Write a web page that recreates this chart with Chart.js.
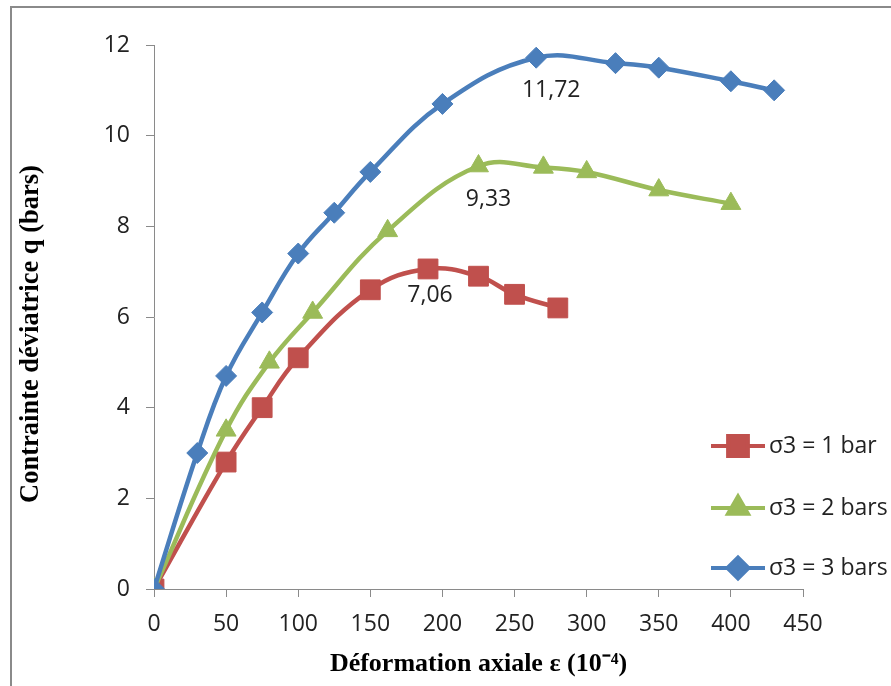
<!DOCTYPE html>
<html>
<head>
<meta charset="utf-8">
<script src="https://cdn.jsdelivr.net/npm/chart.js@4.4.1/dist/chart.umd.min.js"></script>
<style>
  html, body { margin: 0; padding: 0; background: #fff; overflow: hidden; }
  #frame {
    position: absolute; left: 10px; top: 6px;
    width: 1000px; height: 1000px;
    border-left: 2px solid #8a8a8a; border-top: 2px solid #8a8a8a;
  }
  #wrap { position: absolute; left: 0; top: 0; width: 891px; height: 686px; }
</style>
</head>
<body>
<div id="frame"></div>
<div id="wrap"><canvas id="chart" width="891" height="686"></canvas></div>
<script>
// Courbes q - epsilon pour trois pressions de confinement

const seriesNames = ['σ3 = 1 bar', 'σ3 = 2 bars', 'σ3 = 3 bars'];

const strain1 = [0, 50, 75, 100, 150, 190, 225, 250, 280];
const stress1 = [0, 2.8, 4.0, 5.1, 6.6, 7.06, 6.9, 6.5, 6.2];

const strain2 = [0, 50, 80, 110, 162, 225, 270, 300, 350, 400];
const stress2 = [0, 3.5, 5.0, 6.1, 7.9, 9.33, 9.3, 9.2, 8.8, 8.5];

const strain3 = [0, 30, 50, 75, 100, 125, 150, 200, 265, 320, 350, 400, 430];
const stress3 = [0, 3.0, 4.7, 6.1, 7.4, 8.3, 9.2, 10.7, 11.72, 11.6, 11.5, 11.2, 11.0];

// index of the peak point that gets a value label
const peakIndex = [5, 5, 8];

const xTicks = [0, 50, 100, 150, 200, 250, 300, 350, 400, 450];
const yTicks = [0, 2, 4, 6, 8, 10, 12];

const xTitle = 'Déformation axiale ε (10⁻⁴)';
const yTitle = 'Contrainte déviatrice q (bars)';

const colors = ['#c0504d', '#9bbb59', '#4a7ebb'];
const markers = ['rect', 'triangle', 'rectRot'];
const markerSizes = [14, 11.5, 10.5];
// label offsets from the peak point (px)
const labelOffsets = [[2, 27], [10, 33], [15, 33]];

function toPoints(xs, ys) {
    return xs.map((x, i) => ({ x: x, y: ys[i] }));
}

const allData = [toPoints(strain1, stress1), toPoints(strain2, stress2), toPoints(strain3, stress3)];

const tickFont = { family: '"Open Sans", sans-serif', size: 23 };
const serif = '"Liberation Serif", "Times New Roman", serif';

// draws the peak value labels
const peakLabels = {
    id: 'peakLabels',
    afterDatasetsDraw(chart) {
        const ctx = chart.ctx;
        ctx.save();
        ctx.font = '23px "Open Sans", sans-serif';
        ctx.fillStyle = '#222';
        ctx.textAlign = 'center';
        ctx.textBaseline = 'middle';
        chart.data.datasets.forEach((ds, i) => {
            const el = chart.getDatasetMeta(i).data[peakIndex[i]];
            const val = ds.data[peakIndex[i]].y.toFixed(2).replace('.', ',');
            ctx.fillText(val, el.x + labelOffsets[i][0], el.y + labelOffsets[i][1]);
        });
        ctx.restore();
    }
};

// vertical axis title, placed a bit below the plot centre like the original
const yAxisTitle = {
    id: 'yAxisTitle',
    afterDraw(chart) {
        const ctx = chart.ctx;
        ctx.save();
        ctx.translate(31, 334);
        ctx.rotate(-Math.PI / 2);
        ctx.font = 'bold 26.5px ' + serif;
        ctx.fillStyle = '#000';
        ctx.textAlign = 'center';
        ctx.textBaseline = 'middle';
        ctx.fillText(yTitle, 0, 0);
        ctx.restore();
    }
};

// legend drawn at lower right, inside the plot
const sideLegend = {
    id: 'sideLegend',
    afterDraw(chart) {
        const ctx = chart.ctx;
        const rowY = [446, 508, 568];
        ctx.save();
        chart.data.datasets.forEach((ds, i) => {
            const y = rowY[i];
            ctx.strokeStyle = ds.borderColor;
            ctx.lineWidth = 4;
            ctx.beginPath();
            ctx.moveTo(711, y);
            ctx.lineTo(765, y);
            ctx.stroke();
            ctx.fillStyle = ds.pointBackgroundColor;
            ctx.strokeStyle = ds.pointBorderColor;
            Chart.helpers.drawPoint(ctx, {
                pointStyle: ds.pointStyle,
                radius: ds.pointRadius,
                borderWidth: 1,
                rotation: 0
            }, 738, y);
            ctx.fillStyle = '#222';
            ctx.font = '23px "Open Sans", sans-serif';
            ctx.textAlign = 'left';
            ctx.textBaseline = 'middle';
            ctx.fillText(ds.label, 769, y);
        });
        ctx.restore();
    }
};

const datasets = allData.map((pts, i) => ({
    label: seriesNames[i],
    data: pts,
    borderColor: colors[i],
    backgroundColor: colors[i],
    borderWidth: 4.5,
    tension: 0.4,
    pointStyle: markers[i],
    pointRadius: markerSizes[i],
    pointBackgroundColor: colors[i],
    pointBorderColor: colors[i],
    pointBorderWidth: 1,
    order: 3 - i
}));

new Chart(document.getElementById('chart'), {
    type: 'line',
    data: { datasets: datasets },
    options: {
        responsive: false,
        animation: false,
        layout: { padding: { left: 20, right: 88, top: 45, bottom: 6 } },
        plugins: {
            legend: { display: false },
            tooltip: { enabled: false }
        },
        scales: {
            x: {
                type: 'linear',
                min: 0,
                max: 450,
                afterBuildTicks: (s) => { s.ticks = xTicks.map(v => ({ value: v })); },
                afterFit: (s) => { s.height = 91; },
                grid: { drawOnChartArea: false, tickLength: 8, color: '#8a8a8a' },
                border: { color: '#8a8a8a', width: 1 },
                ticks: { font: tickFont, color: '#222', padding: 14, maxRotation: 0 },
                title: {
                    display: true,
                    text: xTitle,
                    font: { family: serif, size: 26, weight: 'bold' },
                    color: '#000',
                    padding: { top: 0, bottom: 0 }
                }
            },
            y: {
                min: 0,
                max: 12,
                afterBuildTicks: (s) => { s.ticks = yTicks.map(v => ({ value: v })); },
                afterFit: (s) => { s.width = 134; },
                grid: { drawOnChartArea: false, tickLength: 8, color: '#8a8a8a' },
                border: { color: '#8a8a8a', width: 1 },
                ticks: { font: tickFont, color: '#222', padding: 16 }
            }
        }
    },
    plugins: [peakLabels, yAxisTitle, sideLegend]
});
</script>
</body>
</html>
